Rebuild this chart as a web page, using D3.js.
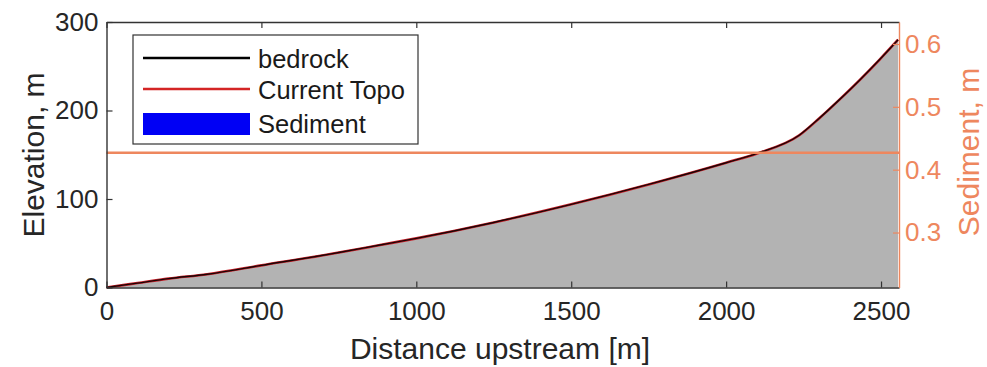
<!DOCTYPE html>
<html><head><meta charset="utf-8">
<script src="https://cdn.jsdelivr.net/npm/d3@7"></script>
<style>body{margin:0;background:#fff}svg{display:block}</style>
</head><body>
<svg id="c" width="987" height="367"></svg>
<script>
const distance = [0,100,200,325,500,750,883,1000,1250,1500,1750,2000,2100,2236,2300,2365,2430,2494,2555];
const bedrock  = [0,5,10,15,25,39.5,48,55.5,73.5,94,116.5,141,151.5,172,191,212,234,257,280];
const sedimentLevel = [0.427, 0.427];
const sedimentX = [0, 2558];
const xTicks = [0,500,1000,1500,2000,2500];
const yTicks = [0,100,200,300];
const y2Ticks = [0.3,0.4,0.5,0.6];
const legendLabels = ["bedrock","Current Topo","Sediment"];

const svg = d3.select("#c");
const L=106.5, R=899, T=22, B=287.5;
const axisCol="#333333", orange="#EE875E", textCol="#262626";
const x = d3.scaleLinear().domain([0,2558]).range([L,R]);
const y = d3.scaleLinear().domain([0,300]).range([B,T]);
const y2 = d3.scaleLinear().domain([0.2125,0.635]).range([B,T]);
const font="'Liberation Sans', Arial, sans-serif";

const pts = distance.map((d,i)=>[d,bedrock[i]]);
svg.append("path").datum(pts)
  .attr("d", d3.area().x(d=>x(d[0])).y0(y(0)).y1(d=>y(d[1])).curve(d3.curveMonotoneX))
  .attr("fill","#B3B3B3");
const line = d3.line().x(d=>x(d[0])).y(d=>y(d[1])).curve(d3.curveMonotoneX);
svg.append("path").datum(pts).attr("d",line).attr("fill","none").attr("stroke","#C8202A").attr("stroke-width",2.6);
svg.append("path").datum(pts).attr("d",line).attr("fill","none").attr("stroke","#1a0505").attr("stroke-width",1.4);

svg.append("path").datum(sedimentX.map((d,i)=>[d,sedimentLevel[i]]))
  .attr("d", d3.line().x(d=>x(d[0])).y(d=>y2(d[1])))
  .attr("stroke",orange).attr("stroke-width",2.6).attr("fill","none");

const gx = svg.append("g").attr("transform",`translate(0,${B})`)
  .call(d3.axisBottom(x).tickValues(xTicks).tickSizeInner(-6).tickSizeOuter(0).tickPadding(14).tickFormat(d3.format("d")));
const gxt = svg.append("g").attr("transform",`translate(0,${T})`)
  .call(d3.axisTop(x).tickValues(xTicks).tickSizeInner(-6).tickSizeOuter(0).tickFormat(""));
const gy = svg.append("g").attr("transform",`translate(${L},0)`)
  .call(d3.axisLeft(y).tickValues(yTicks).tickSizeInner(-6).tickSizeOuter(0).tickPadding(8));
const gy2 = svg.append("g").attr("transform",`translate(${R},0)`)
  .call(d3.axisRight(y2).tickValues(y2Ticks).tickSizeInner(-6).tickSizeOuter(0).tickPadding(6).tickFormat(d3.format(".1f")));
[gx,gxt,gy].forEach(g=>{
  g.select(".domain").attr("stroke",axisCol).attr("stroke-width",1.4);
  g.selectAll(".tick line").attr("stroke",axisCol).attr("stroke-width",1.2);
  g.selectAll("text").attr("fill",textCol).attr("font-family",font).attr("font-size",26);
});
gy2.select(".domain").attr("stroke",orange).attr("stroke-width",1.4);
gy2.selectAll(".tick line").attr("stroke",orange).attr("stroke-width",1.2);
gy2.selectAll("text").attr("fill",orange).attr("font-family",font).attr("font-size",26);

svg.append("text").attr("x",500).attr("y",359).attr("text-anchor","middle")
  .attr("font-family",font).attr("font-size",30).attr("fill",textCol).text("Distance upstream [m]");
svg.append("text").attr("transform",`translate(44,155) rotate(-90)`).attr("text-anchor","middle")
  .attr("font-family",font).attr("font-size",30).attr("fill",textCol).text("Elevation, m");
svg.append("text").attr("transform",`translate(979,152) rotate(-90)`).attr("text-anchor","middle")
  .attr("font-family",font).attr("font-size",30).attr("fill",orange).text("Sediment, m");

const lg = svg.append("g");
lg.append("rect").attr("x",133).attr("y",35).attr("width",285).attr("height",109)
  .attr("fill","#fff").attr("stroke","#333").attr("stroke-width",1.2);
const rows=[58,89,123];
lg.append("line").attr("x1",143).attr("x2",250).attr("y1",rows[0]).attr("y2",rows[0]).attr("stroke","#000").attr("stroke-width",2.5);
lg.append("line").attr("x1",143).attr("x2",250).attr("y1",rows[1]).attr("y2",rows[1]).attr("stroke","#D42525").attr("stroke-width",2.5);
lg.append("rect").attr("x",143).attr("y",113).attr("width",107).attr("height",22).attr("fill","#0000F5");
legendLabels.forEach((t,i)=>{
  lg.append("text").attr("x",258).attr("y",rows[i]+10).attr("font-family",font).attr("font-size",25.5)
    .attr("fill","#1a1a1a").text(t);
});
</script>
</body></html>
